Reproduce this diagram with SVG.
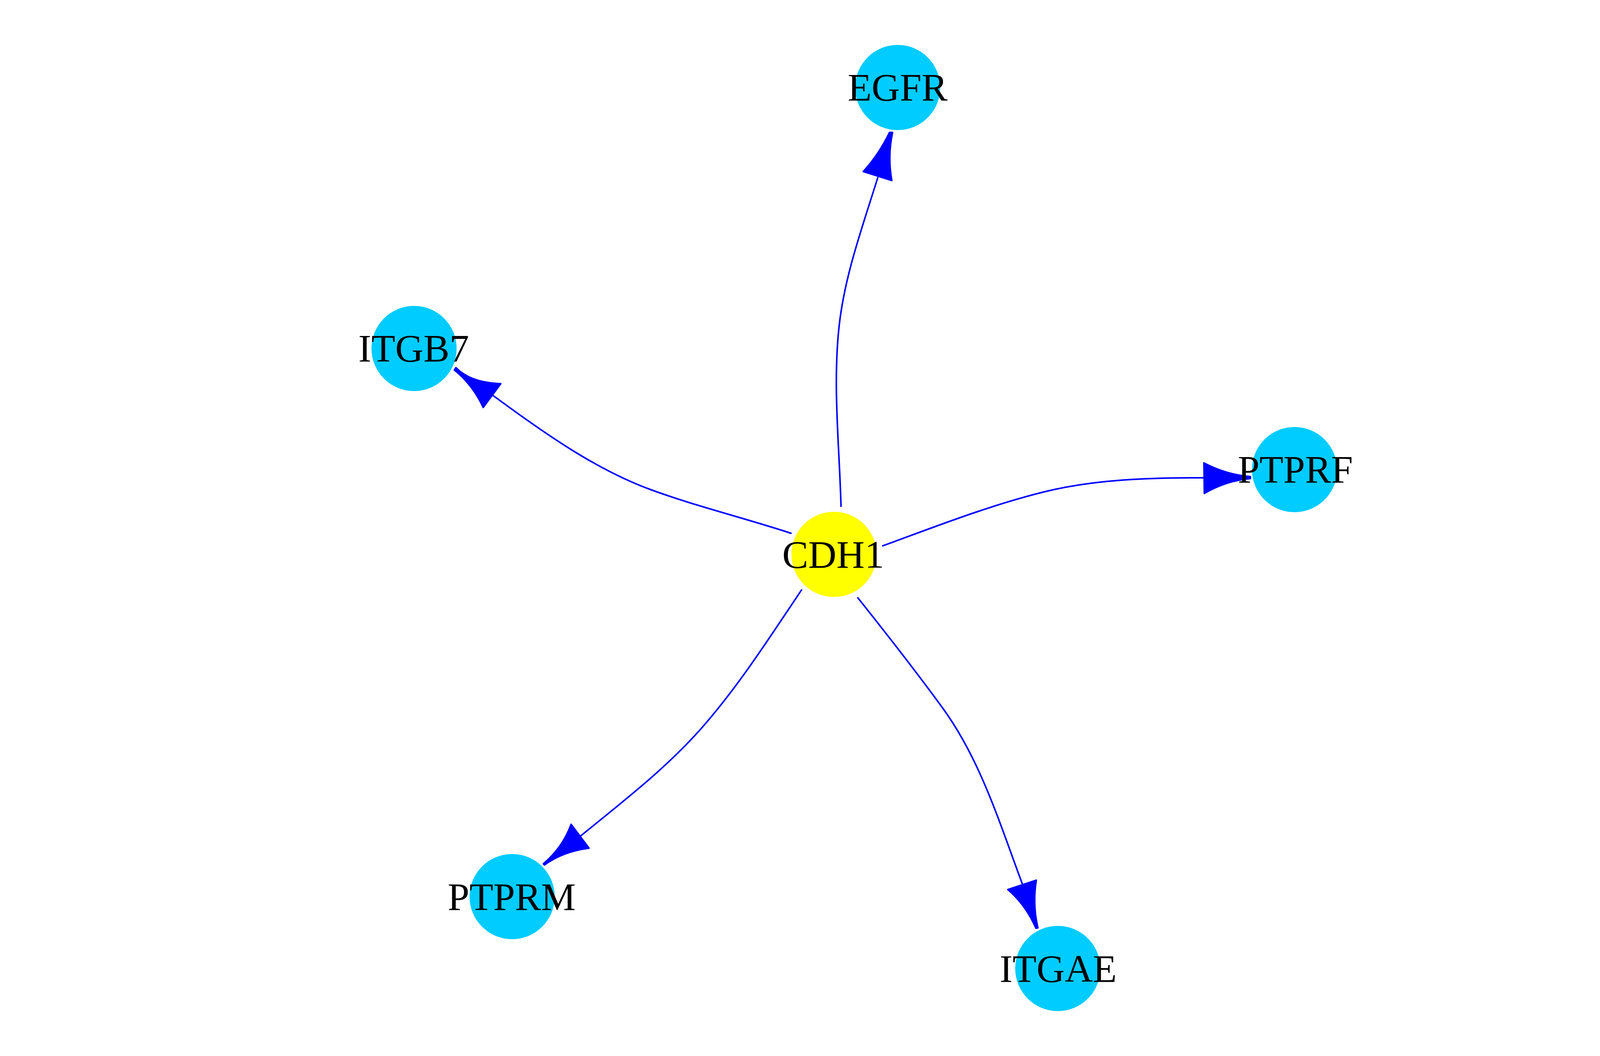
<svg xmlns="http://www.w3.org/2000/svg" width="4375" height="2703" viewBox="0 0 4375 2703">
<style>
.edge{fill:none;stroke:#0000FF;stroke-width:4;stroke-linecap:round}
.head{fill:#0000FF;stroke:#0000FF;stroke-width:4;stroke-linejoin:round}
.tgt{fill:#00CCFF}
.src{fill:#FFFF00}
.lbl{font-family:"Liberation Serif","Times New Roman",serif;font-size:100px;fill:#000000;text-anchor:middle}
</style>
<rect width="4375" height="2703" fill="#FFFFFF"/>
<g id="connectors">
  <g id="e-CDH1-EGFR">
    <path class="edge" d="M2153,1296 C2149,1143 2131.5,988 2148,836 C2162,706 2208,580 2247,455"/>
    <path class="head" d="M2277,339 Q2250,395 2210,439 L2283,462 Q2272,400 2285,339 Z"/>
  </g>
  <g id="e-CDH1-ITGB7">
    <path class="edge" d="M2025,1365 C1906,1326 1782,1296 1665,1253 C1519,1199 1389,1105 1263,1013"/>
    <path class="head" d="M1167,941 Q1205,980 1282,982 L1237,1043 Q1210,985 1163,947 Z"/>
  </g>
  <g id="e-CDH1-PTPRF">
    <path class="edge" d="M2260,1397 C2395,1348 2529,1295 2669,1260 C2804,1226 2945,1223 3084,1223"/>
    <path class="head" d="M3201,1220 Q3140,1215 3082,1185 L3083,1263 Q3140,1230 3201,1225 Z"/>
  </g>
  <g id="e-CDH1-PTPRM">
    <path class="edge" d="M2052,1510 C1974,1626 1898,1745 1807,1851 C1714,1960 1598,2049 1486,2140"/>
    <path class="head" d="M1391,2211 Q1440,2170 1462,2110 L1508,2171 Q1440,2180 1394,2214 Z"/>
  </g>
  <g id="e-CDH1-ITGAE">
    <path class="edge" d="M2196,1530 C2270,1623 2343,1716 2413,1812 C2510,1945 2559,2107 2617,2262"/>
    <path class="head" d="M2652,2376 Q2625,2315 2580,2277 L2653,2253 Q2643,2315 2657,2375 Z"/>
  </g>
</g>
<g id="node-EGFR">
  <circle class="tgt" cx="2298" cy="224" r="109"/>
  <text class="lbl" x="2298" y="257">EGFR</text>
</g>
<g id="node-ITGB7">
  <circle class="tgt" cx="1060" cy="892" r="109"/>
  <text class="lbl" x="1059" y="925">ITGB7</text>
</g>
<g id="node-PTPRF">
  <circle class="tgt" cx="3314" cy="1202" r="109"/>
  <text class="lbl" x="3316" y="1235">PTPRF</text>
</g>
<g id="node-CDH1">
  <circle class="src" cx="2135" cy="1419" r="109"/>
  <text class="lbl" x="2133" y="1453">CDH1</text>
</g>
<g id="node-PTPRM">
  <circle class="tgt" cx="1311" cy="2295" r="109"/>
  <text class="lbl" x="1310" y="2329">PTPRM</text>
</g>
<g id="node-ITGAE">
  <circle class="tgt" cx="2708" cy="2479" r="109"/>
  <text class="lbl" x="2709" y="2513">ITGAE</text>
</g>
</svg>
